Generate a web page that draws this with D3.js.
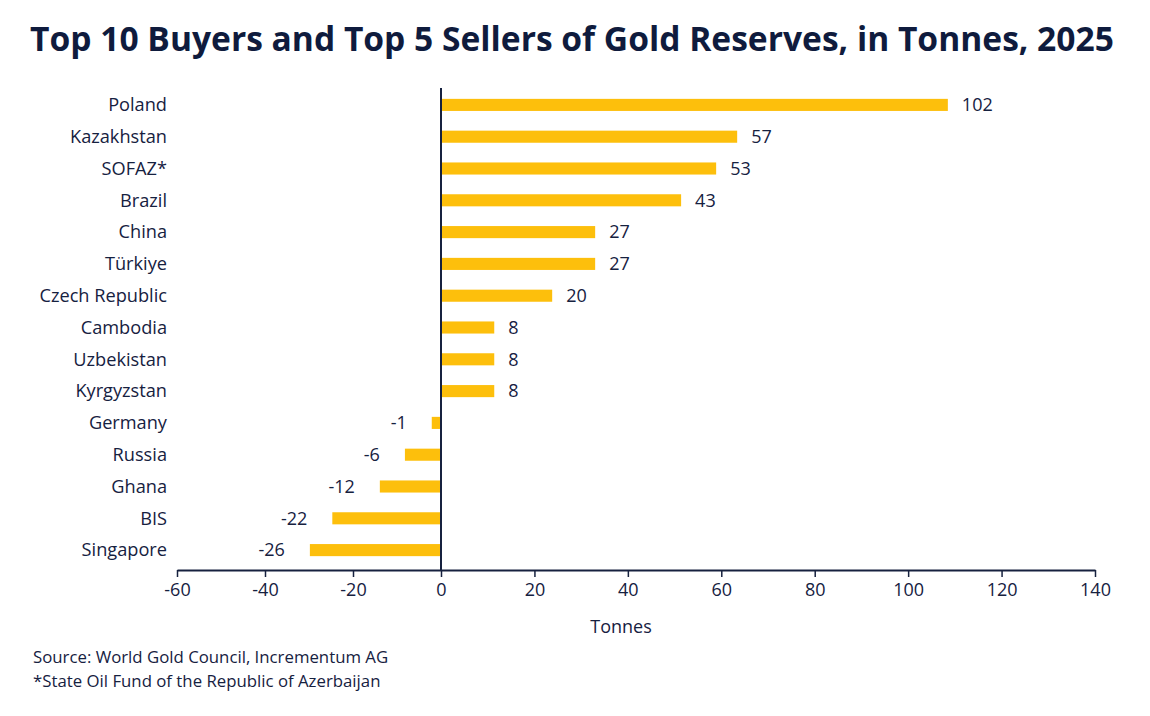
<!DOCTYPE html>
<html lang="en">
<head>
<meta charset="utf-8">
<title>Gold Reserves 2025</title>
<script src="https://cdn.jsdelivr.net/npm/d3@7"></script>
<style>
  body { margin: 0; background: #fff; }
  svg { display: block; }
  text { font-family: "Open Sans", "DejaVu Sans", sans-serif; fill: #16213f; }
</style>
</head>
<body>
<script>
// data
var countries = ["Poland", "Kazakhstan", "SOFAZ*", "Brazil", "China", "Türkiye", "Czech Republic",
                 "Cambodia", "Uzbekistan", "Kyrgyzstan", "Germany", "Russia", "Ghana", "BIS", "Singapore"];
// bar lengths as drawn in the picture
var barValues = [108.5, 63.4, 58.9, 51.4, 33.0, 33.0, 23.8, 11.4, 11.4, 11.4, -2.1, -8.2, -13.9, -24.7, -29.8];
// numbers printed next to the bars
var labelValues = [102, 57, 53, 43, 27, 27, 20, 8, 8, 8, -1, -6, -12, -22, -26];
var xTicks = [-60, -40, -20, 0, 20, 40, 60, 80, 100, 120, 140];

var W = 1150, H = 716;
var ink = "#16213f", gold = "#fdbf0c";

var svg = d3.select("body").append("svg")
  .attr("width", W)
  .attr("height", H);

// axis spacing in the picture is a bit wider right of zero, so two linear pieces
var x = d3.scaleLinear()
  .domain([-60, 0, 140])
  .range([177, 441, 1095]);

var y = d3.scaleBand()
  .domain(countries)
  .range([89, 566])
  .paddingInner(0.62)
  .paddingOuter(0.31);

// title
var title = svg.append("text")
  .attr("x", 30)
  .attr("y", 51)
  .attr("font-size", 31)
  .attr("font-weight", 700)
  .style("fill", "#0f1b3d")
  .text("Top 10 Buyers and Top 5 Sellers of Gold Reserves, in Tonnes, 2025");
var tw = title.node().getComputedTextLength();
if (tw > 0) title.attr("font-size", 31 * 1084 / tw);

// bars
svg.append("g").selectAll("rect")
  .data(countries)
  .enter()
  .append("rect")
  .attr("x", function(d, i) { return Math.min(x(0), x(barValues[i])); })
  .attr("y", function(d) { return y(d); })
  .attr("width", function(d, i) { return Math.abs(x(barValues[i]) - x(0)); })
  .attr("height", y.bandwidth())
  .attr("fill", gold);

// category names
svg.append("g").selectAll("text")
  .data(countries)
  .enter()
  .append("text")
  .attr("x", 167)
  .attr("y", function(d) { return y(d) + y.bandwidth() / 2; })
  .attr("dy", "0.35em")
  .attr("text-anchor", "end")
  .attr("font-size", 18.2)
  .text(function(d) { return d; });

// value labels
svg.append("g").selectAll("text")
  .data(countries)
  .enter()
  .append("text")
  .attr("x", function(d, i) {
    return barValues[i] >= 0 ? x(barValues[i]) + 14 : x(barValues[i]) - 25;
  })
  .attr("y", function(d) { return y(d) + y.bandwidth() / 2; })
  .attr("dy", "0.35em")
  .attr("text-anchor", function(d, i) { return barValues[i] >= 0 ? "start" : "end"; })
  .attr("font-size", 18)
  .text(function(d, i) { return labelValues[i]; });

// x axis
var xAxis = svg.append("g")
  .attr("transform", "translate(0,570)")
  .call(d3.axisBottom(x)
    .tickValues(xTicks)
    .tickFormat(function(d) { return String(d); })
    .tickSizeInner(7).tickSizeOuter(0).tickPadding(6));
xAxis.select(".domain").attr("stroke", ink).attr("stroke-width", 2);
xAxis.selectAll(".tick line").attr("stroke", ink).attr("stroke-width", 1.5);
xAxis.selectAll(".tick text")
  .attr("font-size", 18)
  .attr("font-family", "\"Open Sans\", sans-serif")
  .style("fill", ink);

// zero line
svg.append("line")
  .attr("x1", x(0)).attr("x2", x(0))
  .attr("y1", 88).attr("y2", 570)
  .attr("stroke", ink)
  .attr("stroke-width", 2);

svg.append("text")
  .attr("x", 621)
  .attr("y", 633)
  .attr("text-anchor", "middle")
  .attr("font-size", 18)
  .text("Tonnes");

// notes
svg.append("text")
  .attr("x", 33)
  .attr("y", 663)
  .attr("font-size", 16.8)
  .text("Source: World Gold Council, Incrementum AG");
svg.append("text")
  .attr("x", 33)
  .attr("y", 687)
  .attr("font-size", 16.8)
  .text("*State Oil Fund of the Republic of Azerbaijan");
</script>
</body>
</html>
